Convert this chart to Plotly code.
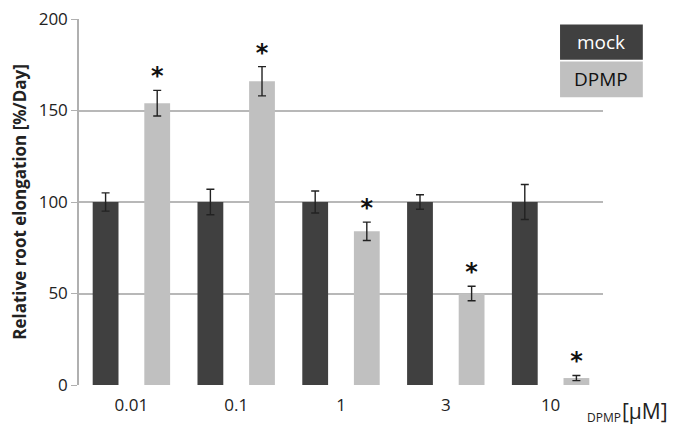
import plotly.graph_objects as go

concentrations = ["0.01", "0.1", "1", "3", "10"]
mock_values = [100, 100, 100, 100, 100]
mock_errors = [5, 7, 6, 4, 9.6]
dpmp_values = [154, 166, 84, 50, 3.8]
dpmp_errors = [7, 8, 5, 4, 1.4]
significant = ["*", "*", "*", "*", "*"]

MOCK_COLOR = "#404040"
DPMP_COLOR = "#c0c0c0"
FONT = "Open Sans, sans-serif"

fig = go.Figure()
fig.add_trace(
    go.Bar(
        x=concentrations,
        y=mock_values,
        name="mock",
        offsetgroup="mock",
        marker=dict(color=MOCK_COLOR, line=dict(width=0)),
        error_y=dict(type="data", array=mock_errors, color="#222222", thickness=1.4, width=4),
    )
)
fig.add_trace(
    go.Bar(
        x=concentrations,
        y=dpmp_values,
        name="DPMP",
        offsetgroup="DPMP",
        marker=dict(color=DPMP_COLOR, line=dict(width=0)),
        error_y=dict(type="data", array=dpmp_errors, color="#222222", thickness=1.4, width=4),
    )
)
# significance stars above DPMP error bars
fig.add_trace(
    go.Scatter(
        x=concentrations,
        y=[v + e for v, e in zip(dpmp_values, dpmp_errors)],
        mode="text",
        text=[f"<b>{s}</b>" for s in significant],
        textposition="top center",
        textfont=dict(family="DejaVu Sans, sans-serif", size=24, color="#111111"),
        offsetgroup="DPMP",
        showlegend=False,
        hoverinfo="skip",
    )
)

fig.update_layout(
    width=675,
    height=427,
    margin=dict(l=79, r=72, t=7, b=42),
    paper_bgcolor="white",
    plot_bgcolor="white",
    barmode="group",
    scattermode="group",
    bargap=0.015,
    bargroupgap=0.5,
    showlegend=False,
    font=dict(family=FONT, color="#222222"),
)

fig.update_yaxes(
    range=[0, 200],
    tickvals=[0, 50, 100, 150, 200],
    ticklabeloverflow="allow",
    showgrid=True,
    gridcolor="#b8b8b8",
    gridwidth=1.5,
    zeroline=False,
    showline=True,
    linecolor="#b0b0b0",
    linewidth=1.5,
    ticks="outside",
    ticklen=6,
    tickcolor="#b0b0b0",
    tickfont=dict(size=17, color="#222222"),
    title=dict(
        text="<b>Relative root elongation [%/Day]</b>",
        font=dict(size=17, color="#222222"),
        standoff=8,
    ),
)
fig.update_xaxes(
    showline=False,
    showgrid=False,
    ticks="",
    ticklabeloverflow="allow",
    ticklabelstandoff=8,
    tickfont=dict(size=17, color="#222222"),
)

# x-axis unit label
fig.add_annotation(
    xref="paper", yref="paper", x=0.966, y=-0.09,
    xanchor="left", yanchor="middle",
    text="DPMP",
    showarrow=False,
    font=dict(family=FONT, size=12, color="#222222"),
)
fig.add_annotation(
    xref="paper", yref="paper", x=1.032, y=-0.071,
    xanchor="left", yanchor="middle",
    text="[μM]",
    showarrow=False,
    font=dict(family=FONT, size=21, color="#222222"),
)

# legend boxes
legend_items = [("mock", MOCK_COLOR, "white", 0.889, 0.985), ("DPMP", DPMP_COLOR, "#111111", 0.786, 0.884)]
for label, fill, txt, y0, y1 in legend_items:
    fig.add_shape(
        type="rect", xref="paper", yref="paper",
        x0=0.918, x1=1.076, y0=y0, y1=y1,
        fillcolor=fill, line=dict(width=0),
    )
    fig.add_annotation(
        xref="paper", yref="paper", x=(0.918 + 1.076) / 2, y=(y0 + y1) / 2,
        xanchor="center", yanchor="middle",
        text=label, showarrow=False,
        font=dict(family=FONT, size=19, color=txt),
    )

fig.write_html(
    "out.html",
    config={"displayModeBar": False},
    post_script="document.body.style.margin='0';",
)
